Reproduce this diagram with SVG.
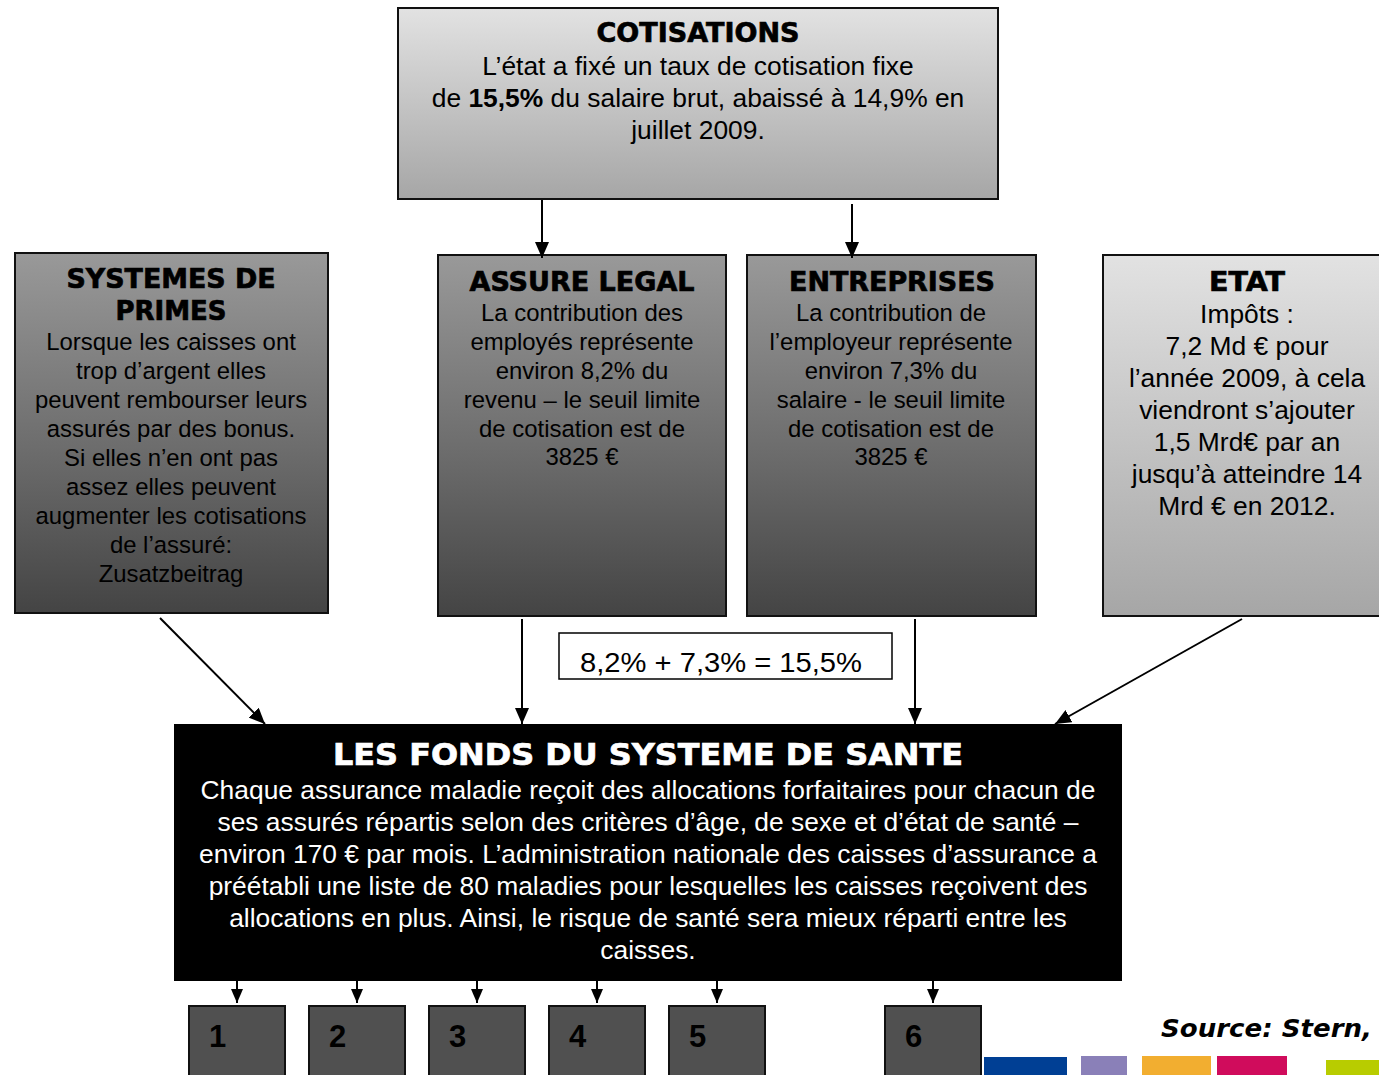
<svg xmlns="http://www.w3.org/2000/svg" width="1379" height="1075" viewBox="0 0 1379 1075">
<defs>
<linearGradient id="gLight" x1="0" y1="0" x2="0" y2="1">
<stop offset="0" stop-color="#e2e2e2"/><stop offset="1" stop-color="#a6a6a6"/>
</linearGradient>
<linearGradient id="gDark" x1="0" y1="0" x2="0" y2="1">
<stop offset="0" stop-color="#999999"/><stop offset="0.55" stop-color="#6c6c6c"/><stop offset="1" stop-color="#444444"/>
</linearGradient>
<marker id="ah" markerWidth="16" markerHeight="14" refX="16" refY="7" orient="auto" markerUnits="userSpaceOnUse">
<path d="M0,0 L16,7 L0,14 Z" fill="#000"/>
</marker>
<marker id="ahs" markerWidth="14" markerHeight="12" refX="14" refY="6" orient="auto" markerUnits="userSpaceOnUse">
<path d="M0,0 L14,6 L0,12 Z" fill="#000"/>
</marker>
</defs>
<style>
.box{stroke:#111;stroke-width:2}
.title{font-family:"DejaVu Sans",Verdana,sans-serif;font-weight:bold;fill:#000;stroke:#000;stroke-width:0.7;text-anchor:middle;font-size:27px}
.body{font-family:"Liberation Sans",Arial,sans-serif;fill:#000;text-anchor:middle}
.wbody{font-family:"Liberation Sans",Arial,sans-serif;fill:#fff;text-anchor:middle;font-size:26.4px}
.num{font-family:"Liberation Sans",Arial,sans-serif;font-weight:bold;font-size:31px;fill:#000}
.conn{stroke:#000;stroke-width:2;fill:none}
</style>
<rect width="1379" height="1075" fill="#fff"/>

<g id="cotisations">
<rect class="box" x="398" y="8" width="600" height="191" fill="url(#gLight)"/>
<text class="title" x="698" y="42" textLength="203" lengthAdjust="spacingAndGlyphs">COTISATIONS</text>
<text class="body" font-size="26.4" x="698" y="75">L’état a fixé un taux de cotisation fixe</text>
<text class="body" font-size="26.4" x="698" y="107">de <tspan font-weight="bold">15,5%</tspan> du salaire brut, abaissé à 14,9% en</text>
<text class="body" font-size="26.4" x="698" y="139">juillet 2009.</text>
</g>

<g id="systemes">
<rect class="box" x="15" y="253" width="313" height="360" fill="url(#gDark)"/>
<text class="title" x="171" y="288" textLength="209" lengthAdjust="spacingAndGlyphs">SYSTEMES DE</text>
<text class="title" x="171" y="320" textLength="111" lengthAdjust="spacingAndGlyphs">PRIMES</text>
<g class="body" font-size="23.9">
<text x="171" y="350">Lorsque les caisses ont</text>
<text x="171" y="379">trop d’argent elles</text>
<text x="171" y="408">peuvent rembourser leurs</text>
<text x="171" y="437">assurés par des bonus.</text>
<text x="171" y="466">Si elles n’en ont pas</text>
<text x="171" y="495">assez elles peuvent</text>
<text x="171" y="524">augmenter les cotisations</text>
<text x="171" y="553">de l’assuré:</text>
<text x="171" y="582">Zusatzbeitrag</text>
</g>
</g>

<g id="assure">
<rect class="box" x="438" y="255" width="288" height="361" fill="url(#gDark)"/>
<text class="title" x="582" y="291" textLength="225" lengthAdjust="spacingAndGlyphs">ASSURE LEGAL</text>
<g class="body" font-size="23.9">
<text x="582" y="321">La contribution des</text>
<text x="582" y="350">employés représente</text>
<text x="582" y="379">environ 8,2% du</text>
<text x="582" y="408">revenu – le seuil limite</text>
<text x="582" y="437">de cotisation est de</text>
<text x="582" y="465">3825 €</text>
</g>
</g>

<g id="entreprises">
<rect class="box" x="747" y="255" width="289" height="361" fill="url(#gDark)"/>
<text class="title" x="892" y="291" textLength="206" lengthAdjust="spacingAndGlyphs">ENTREPRISES</text>
<g class="body" font-size="23.9">
<text x="891" y="321">La contribution de</text>
<text x="891" y="350">l’employeur représente</text>
<text x="891" y="379">environ 7,3% du</text>
<text x="891" y="408">salaire - le seuil limite</text>
<text x="891" y="437">de cotisation est de</text>
<text x="891" y="465">3825 €</text>
</g>
</g>

<g id="etat">
<rect class="box" x="1103" y="255" width="290" height="361" fill="url(#gLight)"/>
<text class="title" x="1247" y="291" textLength="76" lengthAdjust="spacingAndGlyphs">ETAT</text>
<g class="body" font-size="26.4">
<text x="1247" y="323">Impôts :</text>
<text x="1247" y="355">7,2 Md € pour</text>
<text x="1247" y="387">l’année 2009, à cela</text>
<text x="1247" y="419">viendront s’ajouter</text>
<text x="1247" y="451">1,5 Mrd€ par an</text>
<text x="1247" y="483">jusqu’à atteindre 14</text>
<text x="1247" y="515">Mrd € en 2012.</text>
</g>
</g>

<g id="formule">
<rect x="559" y="633" width="333" height="46" fill="#fff" stroke="#000" stroke-width="1.5"/>
<text x="580" y="672" font-family="'Liberation Sans Narrow','Liberation Sans',Arial,sans-serif" font-size="27" textLength="282" lengthAdjust="spacingAndGlyphs">8,2% + 7,3% = 15,5%</text>
</g>

<g id="fonds">
<rect x="174" y="724" width="948" height="257" fill="#000"/>
<text x="648" y="765" font-family="'DejaVu Sans',Verdana,sans-serif" font-weight="bold" font-size="30" fill="#fff" stroke="#fff" stroke-width="0.7" text-anchor="middle" textLength="630" lengthAdjust="spacingAndGlyphs">LES FONDS DU SYSTEME DE SANTE</text>
<text class="wbody" x="648" y="799">Chaque assurance maladie reçoit des allocations forfaitaires pour chacun de</text>
<text class="wbody" x="648" y="831">ses assurés répartis selon des critères d’âge, de sexe et d’état de santé –</text>
<text class="wbody" x="648" y="863">environ 170 € par mois. L’administration nationale des caisses d’assurance a</text>
<text class="wbody" x="648" y="895">préétabli une liste de 80 maladies pour lesquelles les caisses reçoivent des</text>
<text class="wbody" x="648" y="927">allocations en plus. Ainsi, le risque de santé sera mieux réparti entre les</text>
<text class="wbody" x="648" y="959">caisses.</text>
</g>

<g id="n1"><rect class="box" x="189" y="1006" width="96" height="80" fill="#505050"/><text class="num" x="209" y="1047">1</text></g>
<g id="n2"><rect class="box" x="309" y="1006" width="96" height="80" fill="#505050"/><text class="num" x="329" y="1047">2</text></g>
<g id="n3"><rect class="box" x="429" y="1006" width="96" height="80" fill="#505050"/><text class="num" x="449" y="1047">3</text></g>
<g id="n4"><rect class="box" x="549" y="1006" width="96" height="80" fill="#505050"/><text class="num" x="569" y="1047">4</text></g>
<g id="n5"><rect class="box" x="669" y="1006" width="96" height="80" fill="#505050"/><text class="num" x="689" y="1047">5</text></g>
<g id="n6"><rect class="box" x="885" y="1006" width="96" height="80" fill="#505050"/><text class="num" x="905" y="1047">6</text></g>

<g id="source">
<text x="1372" y="1037" text-anchor="end" font-family="'DejaVu Sans',Verdana,sans-serif" font-weight="bold" font-style="italic" font-size="25" fill="#000" textLength="211" lengthAdjust="spacingAndGlyphs">Source: Stern,</text>
<rect x="984" y="1057" width="83" height="20" fill="#003f94"/>
<rect x="1081" y="1056" width="46" height="21" fill="#8a80b8"/>
<rect x="1142" y="1056" width="69" height="21" fill="#f2ae30"/>
<rect x="1217" y="1056" width="70" height="21" fill="#d00c5c"/>
<rect x="1326" y="1060" width="55" height="17" fill="#b8cc00"/>
</g>

<g id="connectors">
<line class="conn" x1="542" y1="200" x2="542" y2="258" marker-end="url(#ah)"/>
<line class="conn" x1="852" y1="204" x2="852" y2="258" marker-end="url(#ah)"/>
<line class="conn" x1="160" y1="618" x2="265" y2="724" marker-end="url(#ah)"/>
<line class="conn" x1="522" y1="619" x2="522" y2="724" marker-end="url(#ah)"/>
<line class="conn" x1="915" y1="619" x2="915" y2="724" marker-end="url(#ah)"/>
<line class="conn" x1="1242" y1="619" x2="1055" y2="724" marker-end="url(#ah)"/>
<line class="conn" x1="237" y1="981" x2="237" y2="1003" marker-end="url(#ahs)"/>
<line class="conn" x1="357" y1="981" x2="357" y2="1003" marker-end="url(#ahs)"/>
<line class="conn" x1="477" y1="981" x2="477" y2="1003" marker-end="url(#ahs)"/>
<line class="conn" x1="597" y1="981" x2="597" y2="1003" marker-end="url(#ahs)"/>
<line class="conn" x1="717" y1="981" x2="717" y2="1003" marker-end="url(#ahs)"/>
<line class="conn" x1="933" y1="981" x2="933" y2="1003" marker-end="url(#ahs)"/>
</g>
</svg>
